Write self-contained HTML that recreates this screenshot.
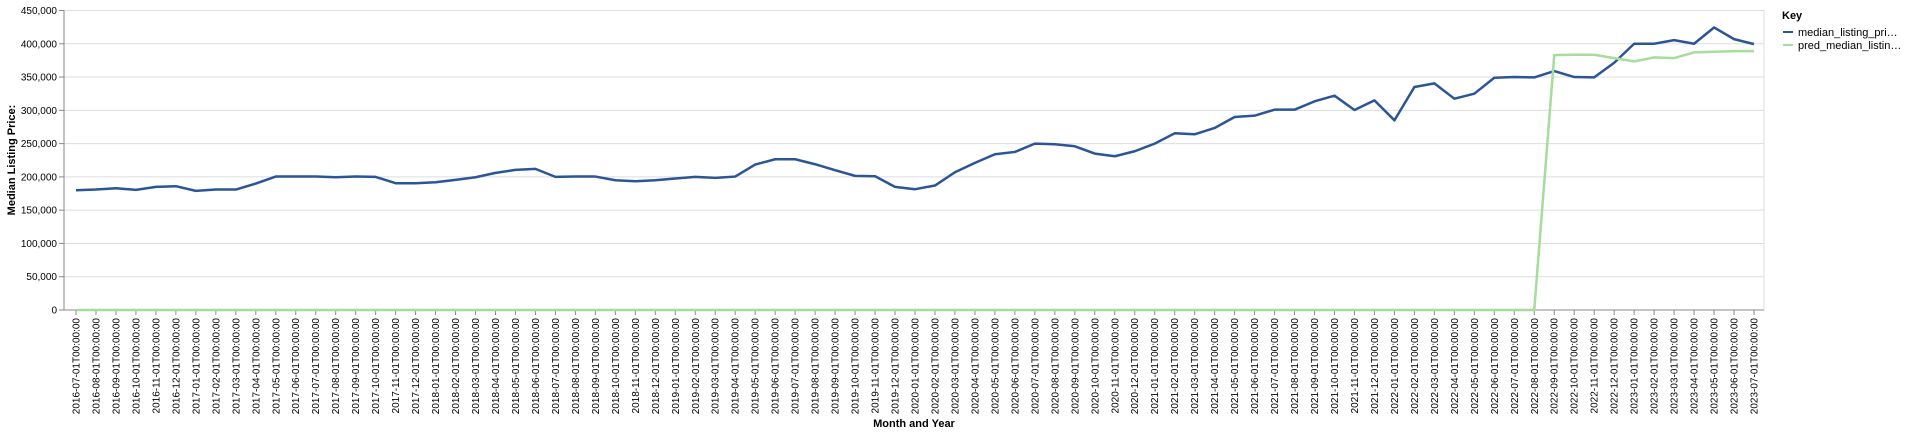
<!DOCTYPE html>
<html><head><meta charset="utf-8"><style>
html,body{margin:0;padding:0;background:#fff;}
svg{display:block;font-family:"Liberation Sans",Arial,sans-serif;}
</style></head><body>
<svg id="chart" width="1920" height="434" xmlns="http://www.w3.org/2000/svg">
<g id="grid"></g>
<g id="yaxis"></g>
<g id="xaxis"></g>
<g id="series"></g>
<text x="15" y="160" transform="rotate(-90 15 160)" text-anchor="middle" font-size="11" font-weight="bold" fill="#000">Median Listing Price:</text>
<text x="914" y="427" text-anchor="middle" font-size="11" font-weight="bold" fill="#000">Month and Year</text>
<g>
<text x="1782" y="19" font-size="11" font-weight="bold" fill="#000">Key</text>
<g>
<line x1="1783" y1="32" x2="1793" y2="32" stroke="#2b5597" stroke-width="2"/>
<text x="1798" y="36" font-size="11" fill="#000">median_listing_pri…</text></g>
<g>
<line x1="1783" y1="45" x2="1793" y2="45" stroke="#a6dc9c" stroke-width="2"/>
<text x="1798" y="49" font-size="11" fill="#000">pred_median_listin…</text></g>
</g>
</svg>
<script>
const actual = [180000,181000,183000,180500,185000,186000,179000,181000,181000,190000,200500,200500,200500,199500,200500,200000,190500,190500,192000,195500,199500,206000,210500,212000,200000,200500,200500,195000,193500,195000,197500,200000,198500,200500,218500,226500,226500,219000,210000,201500,201000,185000,181500,187000,207000,221000,234000,237500,250000,249000,246000,235000,231000,238500,250000,265500,264000,273500,290000,292000,301000,301000,313500,322000,300500,315000,285000,335000,340500,317500,325000,349000,350000,349500,359000,350000,349500,371500,400000,400000,405500,400000,424500,407000,399500];
const predicted = [0,0,0,0,0,0,0,0,0,0,0,0,0,0,0,0,0,0,0,0,0,0,0,0,0,0,0,0,0,0,0,0,0,0,0,0,0,0,0,0,0,0,0,0,0,0,0,0,0,0,0,0,0,0,0,0,0,0,0,0,0,0,0,0,0,0,0,0,0,0,0,0,0,0,383000,383500,383500,378500,373500,379500,378500,387000,388000,389000,389000];
const yTicks = [0,50000,100000,150000,200000,250000,300000,350000,400000,450000];
const startYear = 2016, startMonth = 7;

const NS="http://www.w3.org/2000/svg";
const L=64,R=1764,T=10.5,B=310,X0=76,STEP=(1754-76)/84;
const xs=i=>X0+i*STEP;
const ys=v=>B-v/450000*(B-T);
function el(tag,attrs,parent){const e=document.createElementNS(NS,tag);for(const k in attrs)e.setAttribute(k,attrs[k]);parent.appendChild(e);return e;}
const grid=document.getElementById('grid'),ya=document.getElementById('yaxis'),xa=document.getElementById('xaxis'),se=document.getElementById('series');
yTicks.forEach(v=>{
  const y=ys(v);
  if(v>0){const g=el('line',{x1:L,x2:R,y1:y,y2:y,stroke:'#ddd','stroke-width':1},grid);
  
  }
  el('line',{x1:L-5,x2:L,y1:y,y2:y,stroke:'#888'},ya);
  const t=el('text',{x:L-7,y:y+3.5,'text-anchor':'end','font-size':10,fill:'#000'},ya);
  t.textContent=v.toLocaleString('en-US');
  
  
});
el('line',{x1:R,x2:R,y1:T,y2:B,stroke:'#ddd'},grid);
el('line',{x1:L,x2:L,y1:T,y2:B,stroke:'#888'},ya);
el('line',{x1:L,x2:R,y1:B,y2:B,stroke:'#888'},xa);
for(let i=0;i<actual.length;i++){
  const x=xs(i);
  el('line',{x1:x,x2:x,y1:B,y2:B+5,stroke:'#888'},xa);
  let m=startMonth-1+i,yr=startYear+Math.floor(m/12);m=m%12+1;
  const lab=yr+'-'+String(m).padStart(2,'0')+'-01T00:00:00';
  const t=el('text',{x:0,y:0,transform:`translate(${x+3.5},${B+8}) rotate(-90)`,'text-anchor':'end','font-size':10,fill:'#000'},xa);
  t.textContent=lab;
  
  
}
function path(vals){return vals.map((v,i)=>(i?'L':'M')+xs(i).toFixed(2)+','+ys(v).toFixed(2)).join('');}
const p2=el('path',{d:path(predicted),fill:'none',stroke:'#a6dc9c','stroke-width':2.5,'stroke-linejoin':'round'},se);


const p1=el('path',{d:path(actual),fill:'none',stroke:'#2b5597','stroke-width':2.5,'stroke-linejoin':'round'},se);


se.appendChild(p2);
</script>
</body></html>
